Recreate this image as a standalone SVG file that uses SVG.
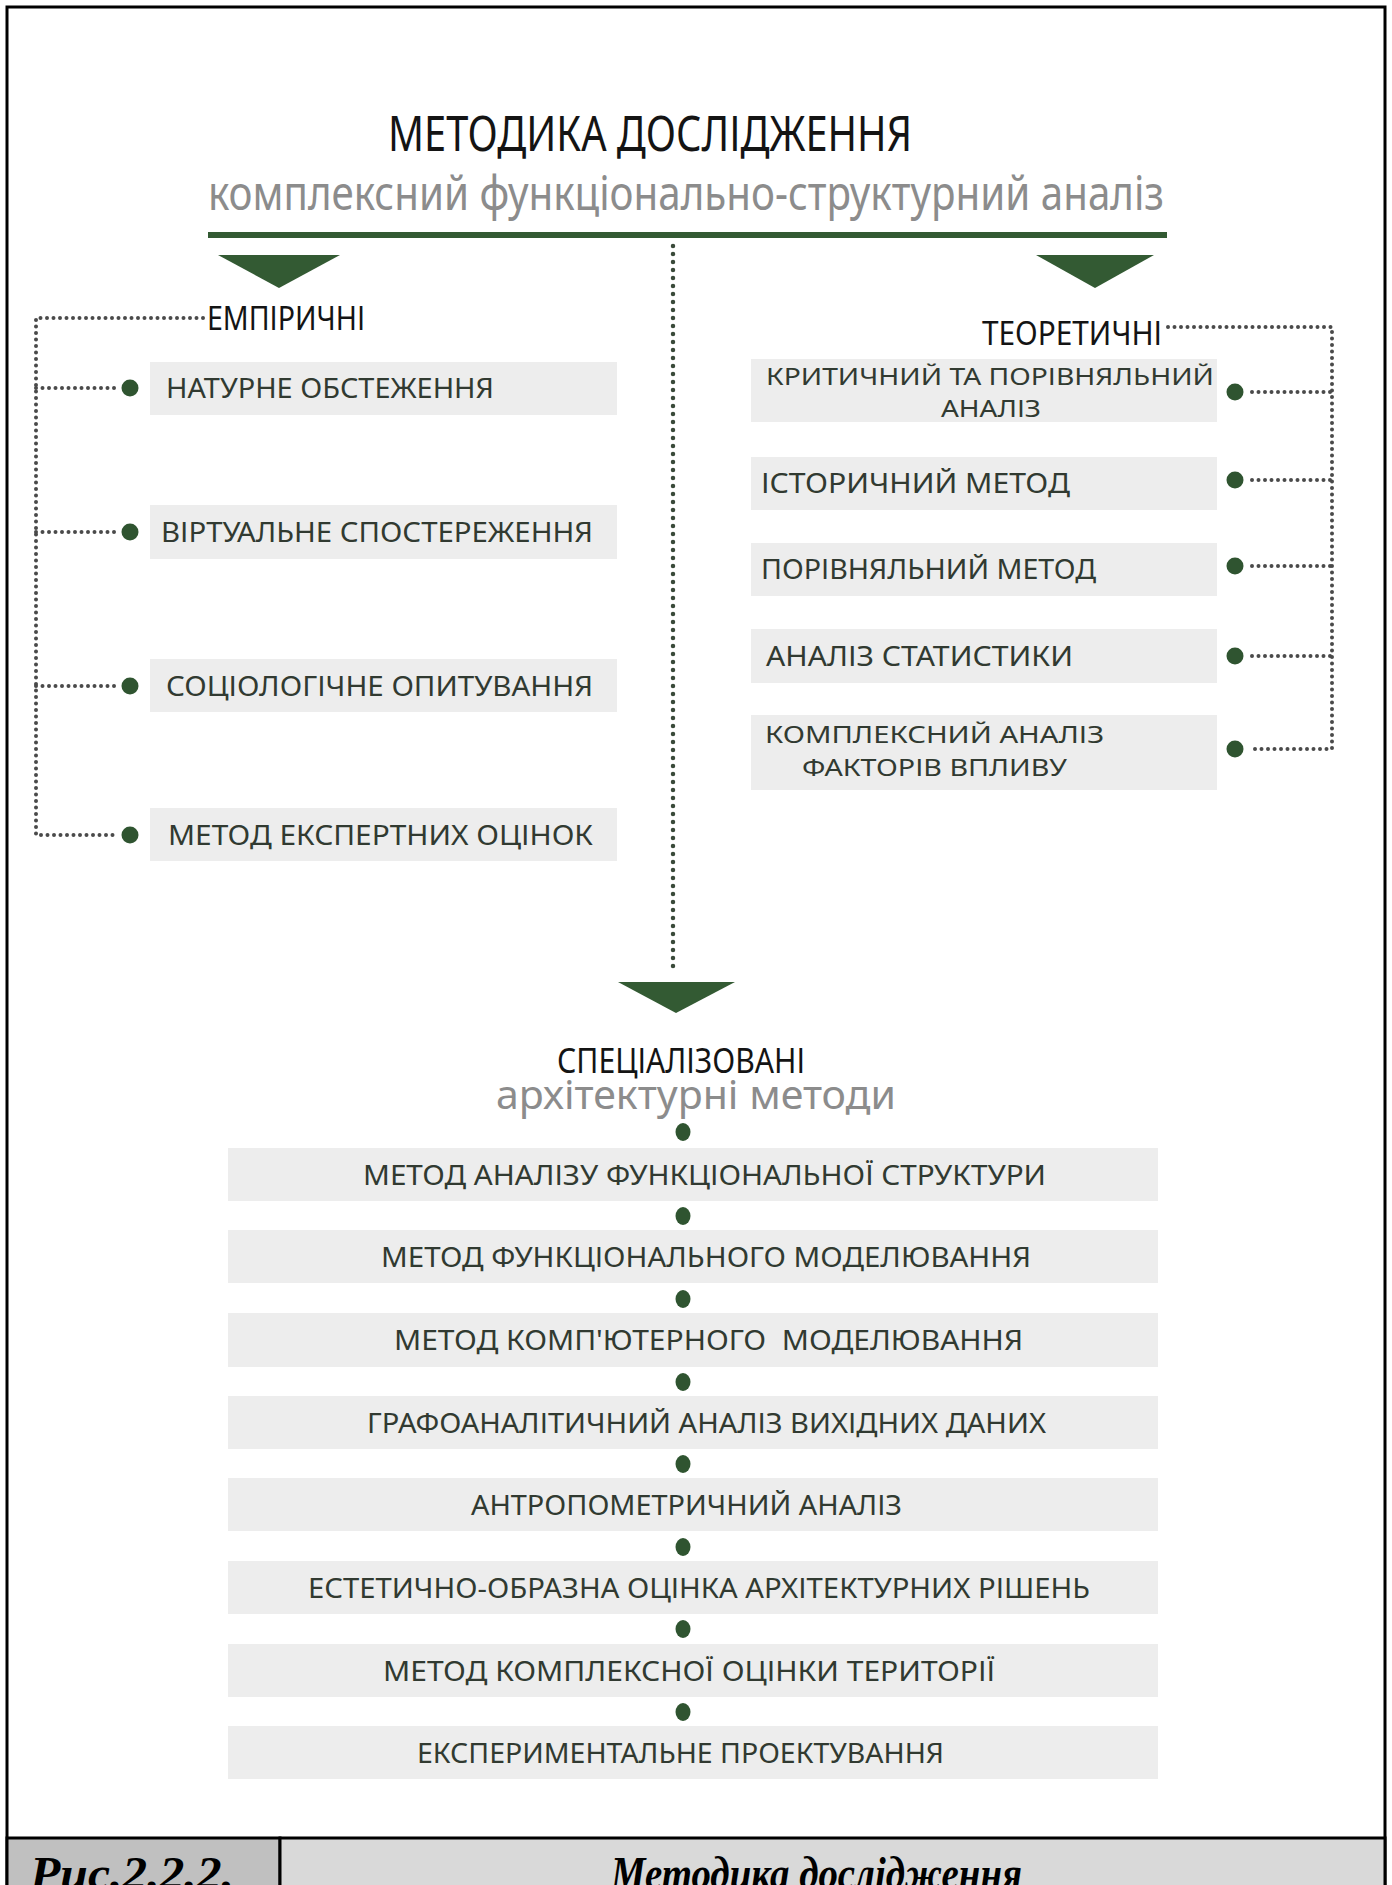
<svg xmlns="http://www.w3.org/2000/svg" width="1392" height="1885" viewBox="0 0 1392 1885">
<style>
.hd{font-family:"Noto Sans","DejaVu Sans",sans-serif;fill:#141414;}
.sub{font-family:"Noto Sans","DejaVu Sans",sans-serif;fill:#8c8c8c;}
.it{font-family:"Noto Sans","DejaVu Sans",sans-serif;font-size:28px;fill:#313a31;white-space:pre;}
.it2{font-family:"Noto Sans","DejaVu Sans",sans-serif;font-size:24px;fill:#313a31;}
.box{fill:#ededed;}
.dot{fill:#2f5430;}
.tri{fill:#335a33;}
.dl{fill:none;stroke:#4a4a4a;stroke-width:4;stroke-linecap:round;stroke-dasharray:0 6.5;}
.dlc{fill:none;stroke:#3a4a3a;stroke-width:4.5;stroke-linecap:round;stroke-dasharray:0 8;}
.cap{font-family:"Liberation Serif","Times New Roman",serif;font-weight:bold;font-style:italic;font-size:46px;fill:#000;}
</style>
<rect x="0" y="0" width="1392" height="1885" fill="#fff"/>
<rect x="7" y="7" width="1378" height="1900" fill="none" stroke="#000" stroke-width="3"/>

<g id="title">
<text class="hd" x="388" y="151" font-size="50" textLength="524" lengthAdjust="spacingAndGlyphs">МЕТОДИКА ДОСЛІДЖЕННЯ</text>
<text class="sub" x="208" y="210" font-size="48" textLength="956" lengthAdjust="spacingAndGlyphs">комплексний функціонально-структурний аналіз</text>
<rect x="208" y="232" width="959" height="6" fill="#335a33"/>
</g>

<g id="connectors">
<polygon class="tri" points="218,255 340,255 279,288"/>
<polygon class="tri" points="1036,255 1154,255 1095,288"/>
<polygon class="tri" points="618,982 735,982 676,1013"/>
<line class="dlc" x1="673" y1="246" x2="673" y2="972"/>
<polyline class="dl" points="203,318 36,318 36,835 117,835"/>
<line class="dl" x1="36" y1="388" x2="117" y2="388"/>
<line class="dl" x1="36" y1="532" x2="117" y2="532"/>
<line class="dl" x1="36" y1="686" x2="117" y2="686"/>
<polyline class="dl" points="1168,327 1332,327 1332,749 1252,749"/>
<line class="dl" x1="1252" y1="392" x2="1332" y2="392"/>
<line class="dl" x1="1252" y1="480" x2="1332" y2="480"/>
<line class="dl" x1="1252" y1="566" x2="1332" y2="566"/>
<line class="dl" x1="1252" y1="656" x2="1332" y2="656"/>
</g>

<g id="empirical">
<text class="hd" x="207" y="330" font-size="33" textLength="158" lengthAdjust="spacingAndGlyphs">ЕМПІРИЧНІ</text>
<g id="e1"><rect class="box" x="150" y="362" width="467" height="53"/><circle class="dot" cx="130" cy="388" r="8.5"/><text class="it" x="166" y="398" textLength="328" lengthAdjust="spacingAndGlyphs">НАТУРНЕ ОБСТЕЖЕННЯ</text></g>
<g id="e2"><rect class="box" x="150" y="505" width="467" height="54"/><circle class="dot" cx="130" cy="532" r="8.5"/><text class="it" x="161" y="542" textLength="432" lengthAdjust="spacingAndGlyphs">ВІРТУАЛЬНЕ СПОСТЕРЕЖЕННЯ</text></g>
<g id="e3"><rect class="box" x="150" y="659" width="467" height="53"/><circle class="dot" cx="130" cy="686" r="8.5"/><text class="it" x="166" y="696" textLength="427" lengthAdjust="spacingAndGlyphs">СОЦІОЛОГІЧНЕ ОПИТУВАННЯ</text></g>
<g id="e4"><rect class="box" x="150" y="808" width="467" height="53"/><circle class="dot" cx="130" cy="835" r="8.5"/><text class="it" x="168" y="845" textLength="425" lengthAdjust="spacingAndGlyphs">МЕТОД ЕКСПЕРТНИХ ОЦІНОК</text></g>
</g>

<g id="theoretical">
<text class="hd" x="982" y="345" font-size="33" textLength="180" lengthAdjust="spacingAndGlyphs">ТЕОРЕТИЧНІ</text>
<g id="t1"><rect class="box" x="751" y="359" width="466" height="63"/><circle class="dot" cx="1235" cy="392" r="8.5"/><text class="it2" x="766" y="385" textLength="448" lengthAdjust="spacingAndGlyphs">КРИТИЧНИЙ ТА ПОРІВНЯЛЬНИЙ</text><text class="it2" x="941" y="417" textLength="100" lengthAdjust="spacingAndGlyphs">АНАЛІЗ</text></g>
<g id="t2"><rect class="box" x="751" y="457" width="466" height="53"/><circle class="dot" cx="1235" cy="480" r="8.5"/><text class="it" x="761" y="493" textLength="309" lengthAdjust="spacingAndGlyphs">ІСТОРИЧНИЙ МЕТОД</text></g>
<g id="t3"><rect class="box" x="751" y="543" width="466" height="53"/><circle class="dot" cx="1235" cy="566" r="8.5"/><text class="it" x="761" y="579" textLength="335" lengthAdjust="spacingAndGlyphs">ПОРІВНЯЛЬНИЙ МЕТОД</text></g>
<g id="t4"><rect class="box" x="751" y="629" width="466" height="54"/><circle class="dot" cx="1235" cy="656" r="8.5"/><text class="it" x="766" y="666" textLength="307" lengthAdjust="spacingAndGlyphs">АНАЛІЗ СТАТИСТИКИ</text></g>
<g id="t5"><rect class="box" x="751" y="715" width="466" height="75"/><circle class="dot" cx="1235" cy="749" r="8.5"/><text class="it2" x="765" y="743" textLength="339" lengthAdjust="spacingAndGlyphs">КОМПЛЕКСНИЙ АНАЛІЗ</text><text class="it2" x="802" y="776" textLength="265" lengthAdjust="spacingAndGlyphs">ФАКТОРІВ ВПЛИВУ</text></g>
</g>

<g id="specialized">
<text class="hd" x="557" y="1073" font-size="34" textLength="248" lengthAdjust="spacingAndGlyphs">СПЕЦІАЛІЗОВАНІ</text>
<text class="sub" x="496" y="1109" font-size="40" textLength="400" lengthAdjust="spacingAndGlyphs">архітектурні методи</text>
<ellipse class="dot" cx="683" cy="1132" rx="7.5" ry="9"/>
<g id="s1"><rect class="box" x="228" y="1148" width="930" height="53"/><text class="it" x="363" y="1185" textLength="683" lengthAdjust="spacingAndGlyphs">МЕТОД АНАЛІЗУ ФУНКЦІОНАЛЬНОЇ СТРУКТУРИ</text></g>
<ellipse class="dot" cx="683" cy="1216" rx="7.5" ry="9"/>
<g id="s2"><rect class="box" x="228" y="1230" width="930" height="53"/><text class="it" x="381" y="1267" textLength="650" lengthAdjust="spacingAndGlyphs">МЕТОД ФУНКЦІОНАЛЬНОГО МОДЕЛЮВАННЯ</text></g>
<ellipse class="dot" cx="683" cy="1299" rx="7.5" ry="9"/>
<g id="s3"><rect class="box" x="228" y="1313" width="930" height="54"/><text class="it" x="394" y="1350" textLength="629" lengthAdjust="spacingAndGlyphs">МЕТОД КОМП'ЮТЕРНОГО  МОДЕЛЮВАННЯ</text></g>
<ellipse class="dot" cx="683" cy="1382" rx="7.5" ry="9"/>
<g id="s4"><rect class="box" x="228" y="1396" width="930" height="53"/><text class="it" x="367" y="1433" textLength="679" lengthAdjust="spacingAndGlyphs">ГРАФОАНАЛІТИЧНИЙ АНАЛІЗ ВИХІДНИХ ДАНИХ</text></g>
<ellipse class="dot" cx="683" cy="1464" rx="7.5" ry="9"/>
<g id="s5"><rect class="box" x="228" y="1478" width="930" height="53"/><text class="it" x="471" y="1515" textLength="431" lengthAdjust="spacingAndGlyphs">АНТРОПОМЕТРИЧНИЙ АНАЛІЗ</text></g>
<ellipse class="dot" cx="683" cy="1547" rx="7.5" ry="9"/>
<g id="s6"><rect class="box" x="228" y="1561" width="930" height="53"/><text class="it" x="308" y="1598" textLength="782" lengthAdjust="spacingAndGlyphs">ЕСТЕТИЧНО-ОБРАЗНА ОЦІНКА АРХІТЕКТУРНИХ РІШЕНЬ</text></g>
<ellipse class="dot" cx="683" cy="1629" rx="7.5" ry="9"/>
<g id="s7"><rect class="box" x="228" y="1644" width="930" height="53"/><text class="it" x="383" y="1681" textLength="612" lengthAdjust="spacingAndGlyphs">МЕТОД КОМПЛЕКСНОЇ ОЦІНКИ ТЕРИТОРІЇ</text></g>
<ellipse class="dot" cx="683" cy="1712" rx="7.5" ry="9"/>
<g id="s8"><rect class="box" x="228" y="1726" width="930" height="53"/><text class="it" x="417" y="1763" textLength="527" lengthAdjust="spacingAndGlyphs">ЕКСПЕРИМЕНТАЛЬНЕ ПРОЕКТУВАННЯ</text></g>
</g>

<g id="caption">
<rect x="7" y="1838" width="273" height="54" fill="#c0c0c0" stroke="#000" stroke-width="3"/>
<rect x="280" y="1838" width="1105" height="54" fill="#d9d9d9" stroke="#000" stroke-width="3"/>
<text class="cap" x="30" y="1889" textLength="204" lengthAdjust="spacingAndGlyphs">Рис.2.2.2.</text>
<text class="cap" x="611" y="1889" textLength="411" lengthAdjust="spacingAndGlyphs">Методика дослідження</text>
</g>
</svg>
